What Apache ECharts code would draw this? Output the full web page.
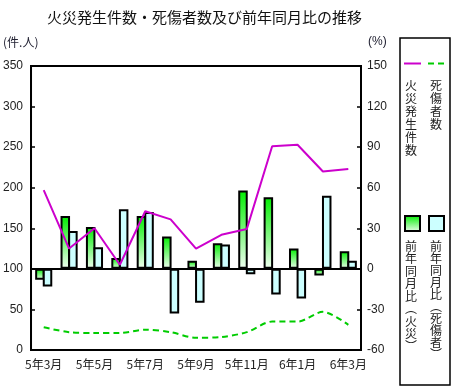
<!DOCTYPE html>
<html><head><meta charset="utf-8">
<script src="https://cdn.jsdelivr.net/npm/echarts@6/dist/echarts.min.js"></script>
<style>html,body{margin:0;padding:0;background:#fff}#c{width:454px;height:390px}</style>
</head><body><div id="c"></div>
<script>
var categories = ['5年3月','5年4月','5年5月','5年6月','5年7月','5年8月','5年9月','5年10月','5年11月','5年12月','6年1月','6年2月','6年3月'];
var fires = [197, 125, 150, 105, 171, 161, 125, 142, 149, 251, 253, 220, 223];
var casualties = [28, 22, 21, 21, 25, 22, 15, 16, 22, 35, 35, 47, 31];
var fireYoY = [-8, 39, 31, 8, 39, 24, 6, 19, 58, 53, 15, -5, 13];
var casYoY = [-13, 28, 16, 44, 42, -33, -25, 18, -4, -19, -22, 54, 6];
var leftTicks = {min: 0, max: 350, interval: 50};
var rightTicks = {min: -60, max: 150, interval: 30};

var FONT = '"Liberation Sans", "Noto Sans CJK JP", sans-serif';
var JP = '"Noto Sans CJK JP", "Liberation Sans", sans-serif';
function vert(s){ return s.split('').join('\n'); }

var chart = echarts.init(document.getElementById('c'), null, {renderer: 'canvas'});
var greenGrad = new echarts.graphic.LinearGradient(0, 0, 0, 1, [
  {offset: 0, color: '#00ee00'}, {offset: 1, color: '#f2fff2'}
]);
var greenGradIcon = new echarts.graphic.LinearGradient(0, 0, 0, 1, [
  {offset: 0, color: '#00ee00'}, {offset: 1, color: '#f2fff2'}
]);
chart.setOption({
  animation: false,
  backgroundColor: '#fff',
  title: {
    text: '火災発生件数・死傷者数及び前年同月比の推移',
    left: 42, top: 5,
    textStyle: {fontFamily: JP, fontSize: 15, fontWeight: 'normal', color: '#111'}
  },
  grid: {left: 31, right: 93, top: 66, bottom: 40, show: true, borderColor: '#000', borderWidth: 2, backgroundColor: 'transparent'},
  xAxis: {
    type: 'category', data: categories, boundaryGap: true,
    axisLine: {lineStyle: {color: '#000', width: 2}},
    axisTick: {alignWithLabel: true, inside: false, length: 4, lineStyle: {color: '#000', width: 1.5}},
    axisLabel: {interval: 1, margin: 8, fontFamily: JP, fontSize: 12, color: '#222'}
  },
  yAxis: [{
    type: 'value', min: leftTicks.min, max: leftTicks.max, interval: leftTicks.interval,
    splitLine: {show: false},
    axisLine: {show: true, lineStyle: {color: '#000', width: 2}},
    axisTick: {show: true, inside: true, length: 4, lineStyle: {color: '#000', width: 1.5}},
    axisLabel: {margin: 8, fontFamily: FONT, fontSize: 12, color: '#222'}
  }, {
    type: 'value', min: rightTicks.min, max: rightTicks.max, interval: rightTicks.interval,
    position: 'right',
    splitLine: {show: false},
    axisLine: {show: true, lineStyle: {color: '#000', width: 2}},
    axisTick: {show: true, inside: true, length: 4, lineStyle: {color: '#000', width: 1.5}},
    axisLabel: {margin: 6, fontFamily: FONT, fontSize: 12, color: '#222'}
  }],
  series: [{
    name: '前年同月比（火災）', type: 'bar', yAxisIndex: 1, data: fireYoY,
    barWidth: 9.5, barGap: '-20%',
    itemStyle: {color: greenGrad, borderColor: '#000', borderWidth: 2},
    markLine: {
      silent: true, symbol: ['none', 'none'], label: {show: false},
      lineStyle: {color: '#000', width: 2, type: 'solid'},
      data: [{yAxis: 0}]
    }
  }, {
    name: '前年同月比（死傷者）', type: 'bar', yAxisIndex: 1, data: casYoY,
    barWidth: 9.5, barGap: '-20%',
    itemStyle: {color: '#ccffff', borderColor: '#000', borderWidth: 2}
  }, {
    name: '火災発生件数', type: 'line', yAxisIndex: 0, data: fires,
    symbol: 'none', lineStyle: {color: '#cc00cc', width: 2}, z: 5
  }, {
    name: '死傷者数', type: 'line', yAxisIndex: 0, data: casualties,
    symbol: 'none', smooth: 0.3, lineStyle: {color: '#00cc00', width: 2, type: [6, 4]}, z: 5
  }],
  graphic: [
    {type: 'text', left: 3, top: 36, style: {text: '(件.人)', font: '12px ' + JP, fill: '#223'}},
    {type: 'text', left: 368, top: 36, style: {text: '(%)', font: '12px ' + FONT, fill: '#223'}},
    {type: 'rect', shape: {x: 400, y: 38, width: 50, height: 347}, style: {fill: 'none', stroke: '#000', lineWidth: 1.5}},
    {type: 'line', shape: {x1: 404, y1: 63.5, x2: 421, y2: 63.5}, style: {stroke: '#cc00cc', lineWidth: 2}},
    {type: 'line', shape: {x1: 428, y1: 63.5, x2: 446, y2: 63.5}, style: {stroke: '#00cc00', lineWidth: 2, lineDash: [6, 4]}},
    {type: 'text', x: 411, y: 79, style: {text: vert('火災発生件数'), font: '12px ' + JP, lineHeight: 13, align: 'center', verticalAlign: 'top', fill: '#222'}},
    {type: 'text', x: 436, y: 79, style: {text: vert('死傷者数'), font: '12px ' + JP, lineHeight: 13, align: 'center', verticalAlign: 'top', fill: '#222'}},
    {type: 'rect', shape: {x: 405, y: 216, width: 15, height: 15}, style: {fill: greenGradIcon, stroke: '#000', lineWidth: 2}},
    {type: 'rect', shape: {x: 429, y: 216, width: 15, height: 15}, style: {fill: '#ccffff', stroke: '#000', lineWidth: 2}},
    {type: 'text', x: 411, y: 240, style: {text: vert('前年同月比︵火災︶'), font: '12px ' + JP, lineHeight: 12.5, align: 'center', verticalAlign: 'top', fill: '#222'}},
    {type: 'text', x: 436, y: 240, style: {text: vert('前年同月比︵死傷者︶'), font: '12px ' + JP, lineHeight: 12, align: 'center', verticalAlign: 'top', fill: '#222'}}
  ]
});
</script></body></html>
